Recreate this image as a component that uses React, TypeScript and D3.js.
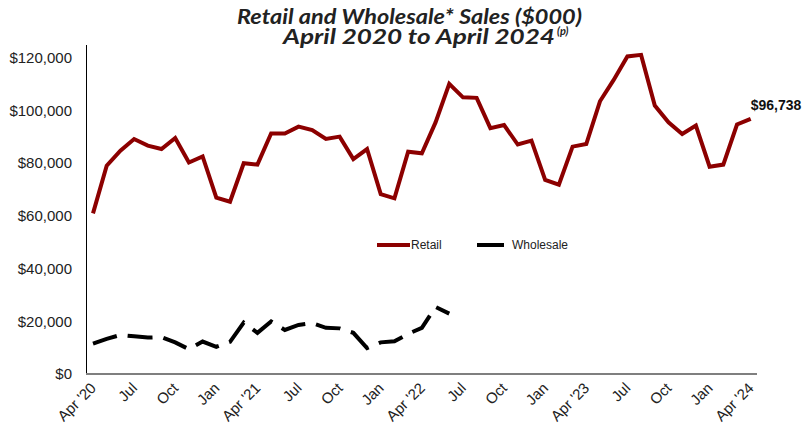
import { useEffect, useRef } from "react"
import * as d3 from "d3"

// monthly values, Apr 2020 .. Apr 2024 ($000)
const retail = [
  60900, 79000, 84700, 89100, 86600, 85300, 89500, 80200, 82500, 66900,
  65300, 79900, 79400, 91200, 91200, 93800, 92500, 89100, 90000, 81500,
  85300, 68200, 66600, 84300, 83700, 95400, 110000, 104900, 104700, 93200,
  94400, 87000, 88500, 73600, 71800, 86200, 87200, 103400, 111500, 120400,
  121000, 101800, 95400, 91000, 94200, 78600, 79400, 94600, 96738,
]

// wholesale only reported through Jun 2022
const wholesale = [
  11500, 13300, 14800, 14300, 13800, 14000, 12000, 9400, 12300, 10300,
  12200, 19500, 15600, 19900, 16700, 18600, 19300, 17500, 17300, 15600,
  9800, 12000, 12400, 15200, 17500, 25400, 22900,
]

const monthNames = ["Jan", "Feb", "Mar", "Apr", "May", "Jun", "Jul", "Aug", "Sep", "Oct", "Nov", "Dec"]
const yTicks = [0, 20000, 40000, 60000, 80000, 100000, 120000]
const startYear = 2020
const startMonth = 3 // April

const W = 802
const H = 432

function tickLabel(i: number) {
  const m = (startMonth + i) % 12
  const yr = startYear + Math.floor((startMonth + i) / 12)
  if (m === 3) return `Apr '${String(yr).slice(2)}`
  return monthNames[m]
}

export default function App() {
  const ref = useRef<SVGSVGElement>(null)

  useEffect(() => {
    const svg = d3.select(ref.current)
    svg.selectAll("*").remove()

    const x = d3.scaleLinear().domain([0, retail.length - 1]).range([93, 750.7])
    const y = d3.scaleLinear().domain([0, 120000]).range([374, 57.5])

    const axisFont = "'Liberation Sans', Arial, sans-serif"

    // title font in the original is wider than Lato, so stretch the glyphs a bit
    const titleStyle = (sel: d3.Selection<SVGTextElement, unknown, null, undefined>) =>
      sel
        .style("font-family", "Lato, sans-serif")
        .style("font-weight", "bold")
        .style("font-style", "italic")
        .style("font-size", "20px")
        .attr("fill", "#222")
    svg
      .append("text")
      .attr("x", 237)
      .attr("y", 24)
      .attr("textLength", 345)
      .attr("lengthAdjust", "spacingAndGlyphs")
      .call(titleStyle)
      .text("Retail and Wholesale* Sales ($000)")
    svg
      .append("text")
      .attr("x", 283)
      .attr("y", 44)
      .attr("textLength", 272)
      .attr("lengthAdjust", "spacingAndGlyphs")
      .call(titleStyle)
      .text("April 2020 to April 2024")
    svg
      .append("text")
      .attr("x", 557)
      .attr("y", 35)
      .call(titleStyle)
      .style("font-size", "11px")
      .text("(p)")

    // y axis labels
    svg
      .selectAll(".ylab")
      .data(yTicks)
      .enter()
      .append("text")
      .attr("class", "ylab")
      .attr("x", 72)
      .attr("y", (d) => y(d))
      .attr("dy", "0.35em")
      .attr("text-anchor", "end")
      .style("font-family", axisFont)
      .style("font-size", "15px")
      .attr("fill", "#222")
      .text((d) => "$" + d3.format(",")(d))

    // axes lines
    svg
      .append("line")
      .attr("x1", 86.5)
      .attr("x2", 86.5)
      .attr("y1", 45)
      .attr("y2", 374)
      .attr("stroke", "#000")
      .attr("stroke-width", 1)
    svg
      .append("line")
      .attr("x1", 86)
      .attr("x2", 757)
      .attr("y1", 374)
      .attr("y2", 374)
      .attr("stroke", "#7f7f7f")
      .attr("stroke-width", 2)

    // x tick labels, every quarter
    const idx = d3.range(0, retail.length, 3)
    svg
      .selectAll(".xlab")
      .data(idx)
      .enter()
      .append("text")
      .attr("class", "xlab")
      .attr("transform", (i) => `translate(${x(i) + 4},${389}) rotate(-45)`)
      .attr("text-anchor", "end")
      .style("font-family", axisFont)
      .style("font-size", "15px")
      .attr("fill", "#222")
      .text((i) => tickLabel(i))

    // lines
    const line = d3
      .line<number | null>()
      .defined((d) => d != null)
      .x((_, i) => x(i))
      .y((d) => y(d as number))

    svg
      .append("path")
      .datum(wholesale as (number | null)[])
      .attr("d", line)
      .attr("fill", "none")
      .attr("stroke", "#000")
      .attr("stroke-width", 4)
      .attr("stroke-dasharray", "25 11")

    svg
      .append("path")
      .datum(retail as (number | null)[])
      .attr("d", line)
      .attr("fill", "none")
      .attr("stroke", "#8c0000")
      .attr("stroke-width", 4)

    // last value label
    const last = retail[retail.length - 1]
    svg
      .append("text")
      .attr("x", x(retail.length - 1))
      .attr("y", 110)
      .style("font-family", axisFont)
      .style("font-weight", "bold")
      .style("font-size", "14px")
      .attr("fill", "#111")
      .text("$" + d3.format(",")(last))

    // legend
    const legend = [
      { name: "Retail", color: "#8c0000", x1: 377, x2: 410, tx: 411 },
      { name: "Wholesale", color: "#000", x1: 477, x2: 504, tx: 512 },
    ]
    legend.forEach((l) => {
      svg
        .append("line")
        .attr("x1", l.x1)
        .attr("x2", l.x2)
        .attr("y1", 245)
        .attr("y2", 245)
        .attr("stroke", l.color)
        .attr("stroke-width", 4)
      svg
        .append("text")
        .attr("x", l.tx)
        .attr("y", 249)
        .style("font-family", axisFont)
        .style("font-size", "12px")
        .attr("fill", "#222")
        .text(l.name)
    })
  }, [])

  return (
    <svg
      ref={ref}
      width={W}
      height={H}
      style={{ position: "absolute", left: 0, top: 0, background: "#fff" }}
    />
  )
}
